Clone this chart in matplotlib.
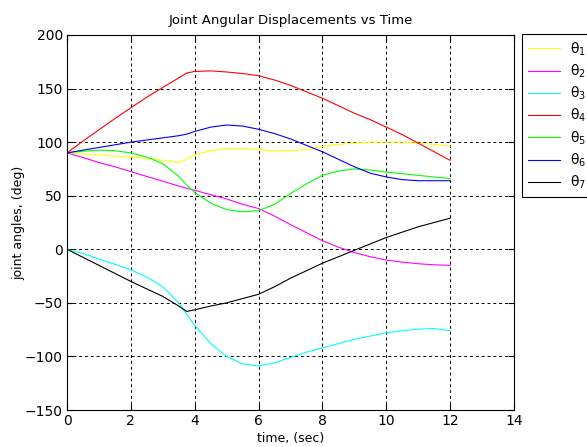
import numpy as np
import matplotlib
matplotlib.use("Agg")
import matplotlib.pyplot as plt

plt.rcParams['font.family'] = ['DejaVu Sans']
plt.rcParams['mathtext.fontset'] = 'dejavusans'

# time samples (sec)
t = [0, 0.5, 1, 1.5, 2, 2.5, 3, 3.5, 3.75, 4, 4.5, 5, 5.5, 6, 6.5, 7, 7.5,
     8, 8.5, 9, 9.5, 10, 10.5, 11, 11.5, 12]

# joint angles (deg)
theta1 = [90, 89, 88, 87, 86, 85, 83, 81, 84, 88, 92, 94, 94, 93, 92, 92, 93,
          96, 98, 99, 100, 100, 100, 99, 98, 96]
theta2 = [90, 85.6, 81, 77, 72.5, 68, 63.5, 59, 57, 55, 51, 47, 42, 38, 31, 23, 15.5,
          8, 2, -3, -7, -10, -12, -13.5, -14.5, -15]
theta3 = [0, -4, -9, -14, -19, -26, -35, -50, -61, -71, -88, -100, -107, -109, -106, -101, -96,
          -92, -88, -84, -81, -78, -76, -74.5, -74, -76]
theta4 = [90, 101, 111.5, 122, 132, 142, 151, 160, 164.5, 166, 166.5, 165.5, 164, 162, 158, 153, 147,
          141, 134, 127, 121, 114, 107, 99, 91, 83]
theta5 = [90, 91.5, 92.5, 92, 90, 86, 80, 68, 60, 53, 43, 37, 35, 36, 42, 52, 61,
          69, 73, 75, 74, 72, 70.5, 69, 67.5, 66]
theta6 = [90, 92.5, 95, 97.5, 100, 102, 104, 106, 107.5, 110, 114, 116, 115, 112, 108, 103, 97,
          91, 84, 77, 71, 67.5, 65, 64, 64, 64]
theta7 = [0, -7.5, -15, -22.5, -30, -37, -44, -53, -58, -56.5, -53, -50, -46, -42, -35, -27, -20,
          -13, -7, -1, 5, 11, 16, 21, 25, 29]

series = [theta1, theta2, theta3, theta4, theta5, theta6, theta7]
colors = ['#ffff00', '#ff00ff', '#00ffff', '#ff0000', '#00ff00', '#0000ff', '#000000']
labels = ['θ$_{%d}$' % (i + 1) for i in range(7)]

fig = plt.figure(figsize=(5.87, 4.47), dpi=100)
ax = fig.add_axes([67 / 587, 1 - 410 / 447, (514 - 67) / 587, (410 - 35) / 447])

for y, c, lab in zip(series, colors, labels):
    ax.plot(t, y, color=c, linewidth=0.8, label=lab)

ax.set_xlim(0, 14)
ax.set_ylim(-150, 200)
ax.set_xticks(np.arange(0, 15, 2))
ax.set_yticks(np.arange(-150, 201, 50))
ax.grid(True, color='black', linestyle=(0, (3, 3)), linewidth=0.7)
ax.tick_params(direction='in', labelsize=10, length=4, top=True, right=True, pad=3)
for s in ax.spines.values():
    s.set_linewidth(0.8)

ax.set_title("Joint Angular Displacements vs Time", fontsize=9.5, pad=8)
ax.set_xlabel("time, (sec)", fontsize=9, labelpad=3)
ax.set_ylabel("joint angles, (deg)", fontsize=9, labelpad=0)

leg = ax.legend(loc='upper left', bbox_to_anchor=(522 / 587, 1 - 34 / 447),
                bbox_transform=fig.transFigure, borderaxespad=0, fontsize=10,
                fancybox=False, framealpha=1, edgecolor='black',
                handlelength=2.3, handletextpad=0.7, labelspacing=0.35,
                borderpad=0.45)
leg.get_frame().set_linewidth(0.8)

fig.savefig("out.png", dpi=100)
